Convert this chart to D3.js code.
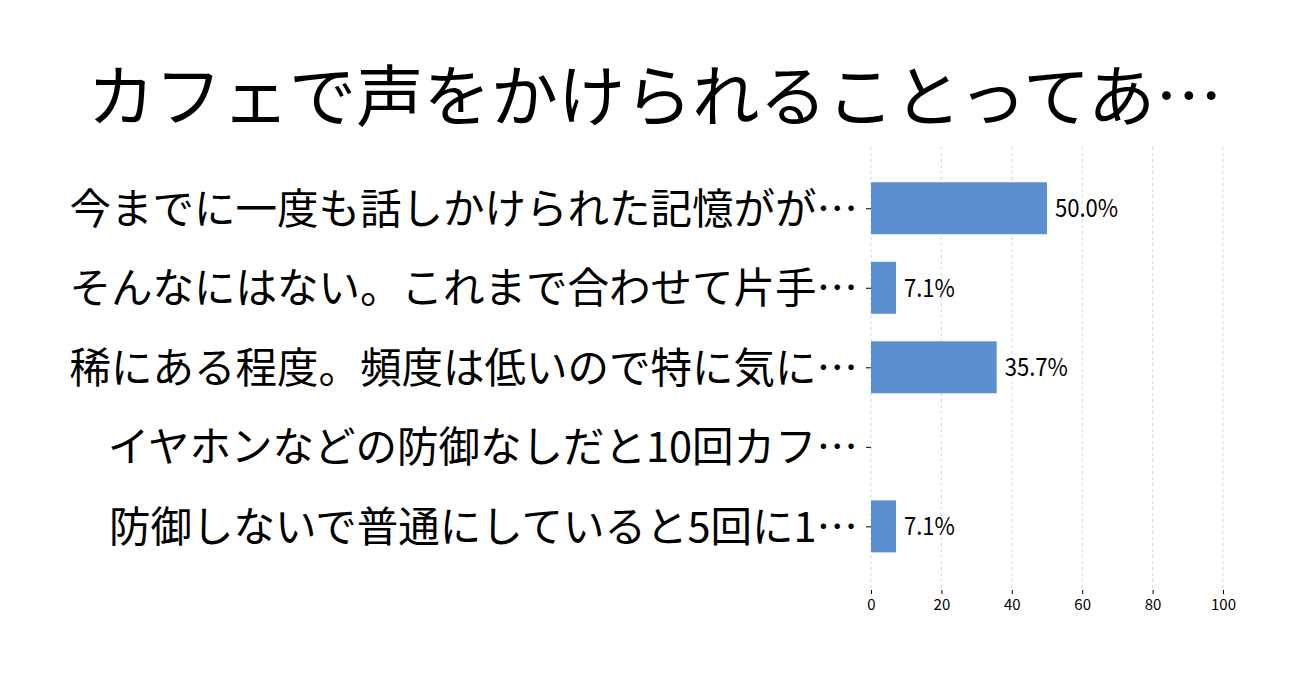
<!DOCTYPE html>
<html><head><meta charset="utf-8">
<script src="https://cdn.jsdelivr.net/npm/d3@7"></script>
<style>body{margin:0;background:#fff}svg{display:block}</style>
</head><body>
<svg id="c" width="1306" height="683"></svg>
<script>
const title = "カフェで声をかけられることってあ…";
const categories = [
  "今までに一度も話しかけられた記憶がが…",
  "そんなにはない。これまで合わせて片手…",
  "稀にある程度。頻度は低いので特に気に…",
  "イヤホンなどの防御なしだと10回カフ…",
  "防御しないで普通にしていると5回に1…"
];
const values = [50.0, 7.1, 35.7, 0, 7.1];
const xTicks = [0, 20, 40, 60, 80, 100];

(function(){
const svg = d3.select("#c");
const cjk = "'Noto Sans CJK JP', 'Noto Sans', sans-serif";
const pLeft = 871, pRight = 1223, pTop = 147, pBottom = 590;

const x = d3.scaleLinear().domain([0, 100]).range([pLeft, pRight]);
const y = d3.scaleLinear().domain([-0.77, categories.length - 1 + 0.8]).range([pTop, pBottom]);
const barH = 52;

const t = svg.append("text").attr("x", 655).attr("y", 121).attr("text-anchor", "middle")
  .attr("font-family", cjk).attr("font-size", 67).attr("fill", "#000").text(title);
t.attr("textLength", 1135).attr("lengthAdjust", "spacingAndGlyphs");

// grid
svg.append("g").selectAll("line").data(xTicks).join("line")
  .attr("x1", d => x(d)).attr("x2", d => x(d)).attr("y1", pTop).attr("y2", pBottom)
  .attr("stroke", "#cccccc").attr("stroke-width", 0.8).attr("stroke-dasharray", "3,3");

// x axis
const xa = svg.append("g").attr("transform", `translate(0,${pBottom})`)
  .call(d3.axisBottom(x).tickValues(xTicks).tickSize(4).tickPadding(5).tickFormat(d3.format("d")));
xa.select(".domain").remove();
xa.selectAll("text").attr("font-family", cjk).attr("font-size", 15).attr("fill", "#000");
xa.selectAll("line").attr("stroke", "#000");

// y axis ticks
const idx = categories.map((d, i) => i);
const ya = svg.append("g").attr("transform", `translate(${pLeft},0)`)
  .call(d3.axisLeft(y).tickValues(idx).tickSize(5).tickPadding(8).tickFormat(i => categories[i]));
ya.select(".domain").remove();
ya.selectAll("text").attr("font-family", cjk).attr("font-size", 41.5).attr("fill", "#000").attr("dy", "0.36em");
ya.selectAll("line").attr("stroke", "#000");

// bars
svg.append("g").selectAll("rect").data(values).join("rect")
  .attr("x", x(0)).attr("y", (d, i) => y(i) - barH / 2)
  .attr("width", d => x(d) - x(0)).attr("height", barH)
  .attr("fill", "#5b8fd0");

// value labels
svg.append("g").selectAll("text").data(values.map((v, i) => ({v, i})).filter(d => d.v > 0)).join("text")
  .attr("x", d => x(d.v) + 8).attr("y", d => y(d.i)).attr("dy", "0.36em")
  .attr("font-family", cjk).attr("font-size", 24.5).attr("fill", "#000")
  .text(d => d.v.toFixed(1) + "%")
  .each(function(){
    const w = this.getComputedTextLength();
    d3.select(this).attr("textLength", w * 0.9).attr("lengthAdjust", "spacingAndGlyphs");
  });
})();
</script>
</body></html>
